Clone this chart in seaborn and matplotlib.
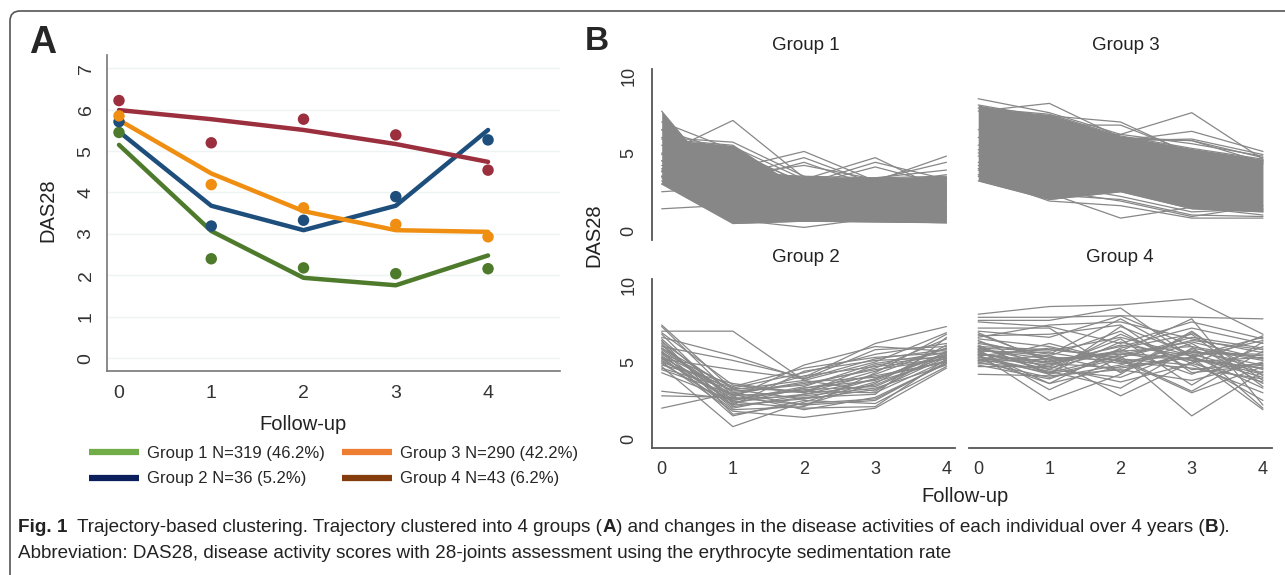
import numpy as np
import pandas as pd
import seaborn as sns
import matplotlib.pyplot as plt
from matplotlib import font_manager
from matplotlib.lines import Line2D
from matplotlib.patches import FancyBboxPatch
from matplotlib.transforms import IdentityTransform

# =============================================================================
# Panel A : fitted group trajectories and observed group means
follow_up = [0, 1, 2, 3, 4]
group_names = ["Group 1", "Group 2", "Group 3", "Group 4"]

fit_g1 = [5.15, 3.07, 1.94, 1.76, 2.48]
fit_g2 = [5.47, 3.68, 3.09, 3.68, 5.51]
fit_g3 = [5.75, 4.46, 3.55, 3.09, 3.05]
fit_g4 = [5.99, 5.77, 5.51, 5.17, 4.74]

obs_g1 = [5.45, 2.40, 2.18, 2.04, 2.16]
obs_g2 = [5.71, 3.19, 3.33, 3.90, 5.27]
obs_g3 = [5.85, 4.19, 3.63, 3.23, 2.93]
obs_g4 = [6.22, 5.20, 5.77, 5.39, 4.54]

legend_labels = ["Group 1 N=319 (46.2%)", "Group 2 N=36 (5.2%)",
                 "Group 3 N=290 (42.2%)", "Group 4 N=43 (6.2%)"]

# =============================================================================
# Panel B : individual DAS28 trajectories
# dense core of group 1 / group 3 (area covered by the bulk of the lines)
core_g1 = [[7.7, 2.2, 1.5, 1.8, 2.0],
           [5.9, 5.5, 2.5, 2.0, 1.5],
           [5.0, 3.7, 3.5, 3.4, 3.5],
           [6.5, 4.0, 3.4, 3.3, 3.4],
           [3.0, 0.45, 0.6, 0.6, 0.5],
           [4.5, 1.0, 0.6, 0.55, 0.5]]
lines_g1 = [[4.9, 7.1, 3.4, 3.0, 2.8],
            [6.0, 5.7, 3.5, 2.5, 2.0],
            [5.5, 5.4, 3.3, 2.2, 1.5],
            [7.0, 5.2, 3.0, 2.8, 2.4],
            [6.5, 5.0, 3.1, 1.8, 2.2],
            [3.5, 4.0, 5.1, 3.2, 2.5],
            [4.5, 3.5, 4.7, 3.0, 2.0],
            [3.8, 3.2, 4.4, 2.8, 3.0],
            [4.2, 3.6, 4.2, 3.3, 2.6],
            [3.0, 3.2, 3.3, 4.7, 2.5],
            [2.5, 2.8, 3.0, 4.4, 3.3],
            [3.5, 3.1, 2.9, 4.1, 2.9],
            [3.5, 3.0, 2.8, 3.2, 4.8],
            [4.0, 2.5, 2.4, 3.3, 4.4],
            [3.8, 2.7, 3.0, 3.4, 3.9],
            [3.4, 2.9, 3.1, 3.0, 3.6],
            [1.4, 1.65, 1.2, 1.0, 1.3],
            [3.2, 0.7, 0.2, 0.8, 1.0],
            [3.9, 2.0, 1.6, 1.3, 0.9]]

core_g3 = [[7.9, 7.5, 6.1, 5.3, 4.6],
           [8.1, 7.3, 5.8, 5.0, 4.5],
           [3.2, 2.0, 2.5, 1.4, 1.2],
           [4.0, 2.2, 2.6, 1.5, 1.3]]
lines_g3 = [[8.5, 7.6, 6.2, 5.6, 4.8],
            [7.7, 8.2, 6.0, 5.8, 4.7],
            [6.5, 7.4, 7.0, 4.9, 4.5],
            [6.0, 6.8, 6.8, 5.0, 4.3],
            [5.5, 6.3, 6.2, 7.6, 4.6],
            [5.2, 5.9, 5.8, 6.4, 5.1],
            [4.8, 5.5, 5.8, 5.9, 4.9],
            [5.0, 5.6, 5.9, 5.8, 4.4],
            [3.5, 1.9, 1.6, 0.8, 0.8],
            [3.9, 2.4, 0.8, 1.5, 1.0],
            [4.2, 2.6, 1.9, 0.9, 1.6],
            [3.6, 2.3, 2.0, 1.0, 0.9],
            [4.4, 3.0, 2.2, 1.2, 1.4]]

lines_g2 = [[7.4, 3.2, 2.6, 3.9, 5.6], [7.3, 2.8, 3.1, 4.4, 5.9],
            [7.0, 7.0, 3.8, 5.0, 6.9], [6.9, 3.5, 3.0, 4.8, 5.4],
            [6.6, 5.4, 3.9, 5.2, 5.8], [6.5, 2.5, 3.3, 4.1, 5.0],
            [6.3, 3.0, 2.2, 3.6, 6.1], [6.1, 2.2, 4.4, 5.1, 5.3],
            [6.0, 5.1, 4.0, 6.2, 7.3], [5.9, 3.3, 3.1, 3.0, 5.1],
            [5.8, 2.7, 4.8, 6.0, 5.7], [5.7, 2.0, 2.9, 3.9, 5.5],
            [5.6, 1.5, 2.5, 2.3, 4.7], [5.5, 3.1, 3.5, 4.6, 6.5],
            [5.4, 2.4, 2.0, 2.1, 5.2], [5.3, 2.9, 3.7, 4.0, 5.0],
            [5.2, 4.5, 3.9, 5.8, 6.0], [5.1, 2.6, 3.2, 3.4, 5.4],
            [5.0, 1.8, 1.4, 2.0, 4.6], [5.0, 3.3, 4.3, 5.5, 6.2],
            [4.9, 2.2, 2.6, 3.2, 5.3], [4.8, 3.6, 3.0, 4.2, 5.9],
            [4.7, 0.8, 2.4, 3.7, 5.1], [4.5, 2.9, 1.9, 2.7, 4.9],
            [4.3, 2.5, 3.4, 4.9, 5.6], [3.1, 2.6, 2.8, 3.3, 4.8],
            [2.8, 2.7, 2.2, 2.5, 5.0], [2.0, 3.0, 3.6, 4.5, 5.2],
            [6.2, 2.1, 2.7, 2.9, 6.6], [5.6, 3.4, 4.6, 5.3, 5.6],
            [6.8, 2.3, 3.3, 3.8, 5.5], [5.3, 1.9, 2.1, 4.3, 6.8],
            [4.6, 3.2, 3.8, 3.1, 5.7], [5.9, 2.8, 4.1, 4.7, 5.2],
            [6.4, 1.6, 2.3, 2.6, 4.9], [5.2, 2.4, 2.9, 3.5, 5.4]]

lines_g4 = [[8.1, 8.6, 8.7, 9.1, 6.8], [7.9, 7.9, 8.0, 7.9, 7.8],
            [7.7, 7.7, 8.5, 5.3, 4.0], [7.6, 7.3, 6.2, 7.6, 6.5],
            [7.2, 7.2, 4.3, 7.0, 3.8], [7.0, 6.6, 8.0, 6.0, 5.2],
            [6.8, 5.1, 5.7, 7.8, 2.2], [6.6, 7.4, 7.6, 6.5, 5.6],
            [6.4, 4.5, 6.8, 4.9, 6.7], [6.3, 5.3, 5.1, 3.0, 4.7],
            [6.1, 4.2, 7.3, 5.5, 4.3], [6.0, 5.8, 5.3, 6.4, 5.8],
            [5.9, 4.9, 4.6, 5.3, 1.9], [5.8, 5.4, 7.0, 4.5, 4.9],
            [5.7, 3.6, 5.9, 6.8, 3.4], [5.7, 5.6, 4.9, 5.6, 5.5],
            [5.6, 4.7, 6.5, 3.5, 6.3], [5.5, 5.0, 5.6, 5.2, 4.6],
            [5.5, 2.5, 4.2, 6.9, 4.1], [5.4, 5.9, 5.2, 4.8, 3.0],
            [5.3, 4.4, 3.3, 5.9, 5.1], [5.3, 4.8, 6.1, 5.4, 6.6],
            [5.2, 4.3, 5.4, 1.5, 4.4], [5.1, 6.2, 5.0, 5.7, 4.8],
            [5.0, 4.0, 4.8, 6.2, 3.6], [5.0, 5.2, 2.8, 5.0, 5.3],
            [4.9, 4.6, 5.8, 4.2, 6.0], [4.8, 3.9, 5.5, 5.1, 2.5],
            [4.2, 4.1, 4.5, 3.8, 5.0], [6.2, 5.5, 7.8, 5.3, 4.2],
            [5.8, 3.2, 5.3, 6.6, 5.9], [6.5, 6.0, 5.0, 4.6, 3.9],
            [5.6, 4.5, 4.0, 5.8, 4.5], [6.9, 5.0, 6.0, 7.2, 6.2],
            [5.4, 4.2, 5.2, 3.1, 5.7], [5.9, 5.7, 6.6, 5.4, 3.3],
            [5.2, 3.6, 4.7, 5.3, 6.4], [6.7, 6.8, 7.4, 4.3, 4.8],
            [5.5, 4.9, 5.7, 6.0, 2.0], [5.1, 5.4, 4.4, 5.6, 5.4],
            [6.0, 4.3, 6.3, 5.1, 4.6], [4.7, 4.7, 3.7, 4.9, 3.7],
            [5.8, 5.2, 5.5, 6.3, 5.2]]

caption_1 = [("Fig. 1", True), ("  Trajectory-based clustering. Trajectory clustered into 4 groups (", False),
             ("A", True), (") and changes in the disease activities of each individual over 4 years (", False),
             ("B", True), (").", False)]
caption_2 = "Abbreviation: DAS28, disease activity scores with 28-joints assessment using the erythrocyte sedimentation rate"

# =============================================================================
W, H = 1285, 575
sns.set_style("white")
names = {f.name for f in font_manager.fontManager.ttflist}
narrow = "Liberation Sans Narrow" if "Liberation Sans Narrow" in names else "Liberation Sans"
cap_size = 15.5 if narrow == "Liberation Sans Narrow" else 13.6
plt.rcParams["font.family"] = ["Liberation Sans", "DejaVu Sans"]

fig = plt.figure(figsize=(W / 100, H / 100), dpi=100)


def box(l, t, r, b):
    return [l / W, 1 - b / H, (r - l) / W, (b - t) / H]


def fx(x):
    return x / W


def fy(y):
    return 1 - y / H


# frame with rounded top-left corner
fig.patches.append(FancyBboxPatch((10, -30), 1320, 575 - 11 + 30,
                                  boxstyle="round,pad=0,rounding_size=10",
                                  transform=IdentityTransform(), fill=False,
                                  edgecolor="#555555", lw=1.2, figure=fig))

# ---------------------------------------------------------------- panel A
line_colors = ["#4e7a2c", "#1d4e7c", "#f08e12", "#9b2f3e"]
legend_colors = ["#70ad47", "#0a1f5c", "#ed7d31", "#843c0c"]

pa = pd.DataFrame({
    "t": follow_up * 4,
    "group": np.repeat(group_names, 5),
    "fit": fit_g1 + fit_g2 + fit_g3 + fit_g4,
    "obs": obs_g1 + obs_g2 + obs_g3 + obs_g4,
})

ax_a = fig.add_axes(box(107, 55, 560, 371))
sns.lineplot(data=pa, x="t", y="fit", hue="group", palette=line_colors, lw=3.2,
             legend=False, ax=ax_a, zorder=3)
sns.scatterplot(data=pa, x="t", y="obs", hue="group", palette=line_colors, s=68,
                linewidth=0, legend=False, ax=ax_a, zorder=4)
ax_a.set_xlim(-0.13, 4.78)
ax_a.set_ylim(-0.31, 7.32)
ax_a.set_xticks(follow_up)
ax_a.set_yticks(range(8))
ax_a.set_yticklabels([str(v) for v in range(8)], rotation=90, va="center")
ax_a.tick_params(axis="both", labelsize=14, colors="#333333", direction="out")
ax_a.tick_params(axis="y", length=8, width=1, color="#777777", pad=1)
ax_a.tick_params(axis="x", length=6, width=1, color="#777777", pad=4)
ax_a.yaxis.grid(True, color="#eef4f4", lw=1)
ax_a.set_axisbelow(True)
sns.despine(ax=ax_a)
for s in ["left", "bottom"]:
    ax_a.spines[s].set_color("#777777")
    ax_a.spines[s].set_linewidth(1.2)
ax_a.set_xlabel("")
ax_a.set_ylabel("")
fig.text(fx(48), fy(210), "DAS28", rotation=90, ha="center", va="center", fontsize=14.5, color="#222222")
fig.text(fx(303), fy(425), "Follow-up", ha="center", va="center", fontsize=14.5, color="#222222")
fig.text(fx(43), fy(43), "A", ha="center", va="center", fontsize=27, fontweight="bold")

handles = [Line2D([], [], color=c, lw=4.5, solid_capstyle="butt") for c in legend_colors]
fig.legend(handles, legend_labels, ncol=2, loc="upper left",
           bbox_to_anchor=(fx(89), fy(446)), frameon=False, fontsize=12,
           handlelength=3.0, handletextpad=0.5, columnspacing=1.0,
           labelspacing=0.62, borderpad=0, borderaxespad=0)

# ---------------------------------------------------------------- panel B
grey = "#878787"


def long_df(lines):
    rows = []
    for i, vals in enumerate(lines):
        for t, v in zip(follow_up, vals):
            rows.append((i, t, v))
    return pd.DataFrame(rows, columns=["id", "t", "v"])


def draw_group(ax, lines, core=None):
    if core is not None:
        xs = np.linspace(0, 4, 401)
        curves = np.array([np.interp(xs, follow_up, c) for c in core])
        ax.fill_between(xs, curves.min(0), curves.max(0), color=grey, lw=0)
        sns.lineplot(data=long_df(core), x="t", y="v", units="id", estimator=None,
                     color=grey, lw=0.9, ax=ax, legend=False)
    sns.lineplot(data=long_df(lines), x="t", y="v", units="id", estimator=None,
                 color=grey, lw=0.9, ax=ax, legend=False)
    ax.set_xlim(-0.136, 4.12)
    ax.set_ylim(-0.6, 10.4)
    ax.set_xlabel("")
    ax.set_ylabel("")
    ax.set_xticks(follow_up)
    ax.set_yticks([0, 5, 10])
    ax.set_yticklabels(["0", "5", "10"], rotation=90, va="center")
    ax.tick_params(axis="both", labelsize=13, colors="#333333", length=7,
                   width=1.1, color="#555555", direction="out")
    ax.tick_params(axis="x", pad=2)
    for s in ax.spines.values():
        s.set_color("#555555")
        s.set_linewidth(1.3)
    ax.spines["top"].set_visible(False)
    ax.spines["right"].set_visible(False)


ax_g1 = fig.add_axes(box(652, 69.3, 955, 239.8))
ax_g3 = fig.add_axes(box(968.5, 69.3, 1271.5, 239.8))
ax_g2 = fig.add_axes(box(652, 278.8, 955, 448.2))
ax_g4 = fig.add_axes(box(968.5, 278.8, 1271.5, 448.2))

draw_group(ax_g1, lines_g1, core_g1)
draw_group(ax_g3, lines_g3, core_g3)
draw_group(ax_g2, lines_g2)
draw_group(ax_g4, lines_g4)

for ax in [ax_g1, ax_g3]:
    ax.spines["bottom"].set_visible(False)
    ax.tick_params(axis="x", bottom=False, labelbottom=False)
for ax in [ax_g3, ax_g4]:
    ax.spines["left"].set_visible(False)
    ax.tick_params(axis="y", left=False, labelleft=False)

fig.text(fx(806), fy(46), "Group 1", ha="center", va="center", fontsize=13.5, color="#222222")
fig.text(fx(1126), fy(46), "Group 3", ha="center", va="center", fontsize=13.5, color="#222222")
fig.text(fx(806), fy(258), "Group 2", ha="center", va="center", fontsize=13.5, color="#222222")
fig.text(fx(1120), fy(258), "Group 4", ha="center", va="center", fontsize=13.5, color="#222222")
fig.text(fx(965), fy(496), "Follow-up", ha="center", va="center", fontsize=14.5, color="#222222")
fig.text(fx(594), fy(235), "DAS28", rotation=90, ha="center", va="center", fontsize=14.5, color="#222222")
fig.text(fx(597), fy(42), "B", ha="center", va="center", fontsize=24, fontweight="bold")

# ---------------------------------------------------------------- caption
renderer = fig.canvas.get_renderer()
x = fx(18)
for txt, bold in caption_1:
    t = fig.text(x, fy(528), txt, fontsize=cap_size, family=[narrow, "DejaVu Sans"],
                 fontweight="bold" if bold else "normal", va="center", color="#222222")
    x += t.get_window_extent(renderer).width / W
fig.text(fx(18), fy(553), caption_2, fontsize=cap_size, family=[narrow, "DejaVu Sans"],
         va="center", color="#222222")

fig.savefig("out.png", dpi=100)
